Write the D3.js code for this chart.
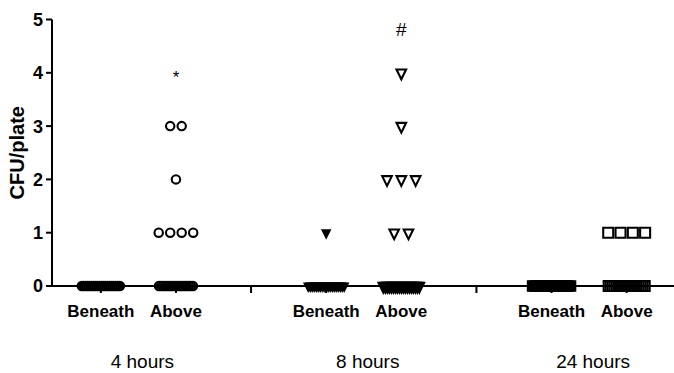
<!DOCTYPE html>
<html>
<head>
<meta charset="utf-8">
<script src="https://cdn.jsdelivr.net/npm/d3@7"></script>
<style>
  html, body { margin: 0; padding: 0; background: #fff; }
  svg { display: block; font-family: "Liberation Sans", Arial, sans-serif; }
</style>
</head>
<body>
<svg id="chart" width="674" height="373"></svg>
<script>
// ---------------- DATA ----------------
const groups = ["4 hours", "8 hours", "24 hours"];
const positions = ["Beneath", "Above"];
const yTicks = [0, 1, 2, 3, 4, 5];
const yTitle = "CFU/plate";

const cfu4hBeneath = [0,0,0,0,0,0,0,0,0,0,0,0,0,0,0,0,0,0,0,0];
const cfu4hAbove   = [3,3,2,1,1,1,1,0,0,0,0,0,0,0,0,0,0,0,0,0,0,0,0,0,0];
const cfu8hBeneath = [1,0,0,0,0,0,0,0,0,0,0,0,0,0,0,0,0,0,0,0];
const cfu8hAbove   = [4,3,2,2,2,1,1,0,0,0,0,0,0,0,0,0,0,0,0,0,0,0,0,0,0,0];
const cfu24hBeneath = [0,0,0,0,0,0,0,0,0,0,0,0,0,0,0,0,0,0,0,0];
const cfu24hAbove   = [1,1,1,1,0,0,0,0,0,0,0,0,0,0,0,0,0,0,0,0,0,0,0];

const seriesValues = [
  [cfu4hBeneath, cfu4hAbove],
  [cfu8hBeneath, cfu8hAbove],
  [cfu24hBeneath, cfu24hAbove]
];
const markerShapes = ["circle", "triangle", "square"];

const annotationLabels = ["*", "#"];
const annotationGroups = ["4 hours", "8 hours"];
const annotationValues = [4, 4.82];

// ---------------- LAYOUT ----------------
const svg = d3.select("#chart");
const x = d3.scaleLinear().domain([-0.65, 7.63]).range([52, 674]);
const y = d3.scaleLinear().domain([0, 5]).range([286, 19.5]);
const slot = (g, p) => g * 3 + p;

// shape specs
const spec = {
  circle:   { step: 11.5 },
  triangle: { step: 14.3 },
  square:   { step: 12.3 }
};
const dense = 2.0;

function markerPath(shape, filled) {
  if (shape === "circle") {
    const r = filled ? 5.3 : 4.2;
    return d3.path().arc ? (() => { const p = d3.path(); p.moveTo(r, 0); p.arc(0, 0, r, 0, 2 * Math.PI); p.closePath(); return p.toString(); })() : "";
  }
  if (shape === "triangle") {
    const w = filled ? 10.5 : 9.6, h = filled ? 10.5 : 9.8;
    const p = d3.path();
    p.moveTo(-w / 2, -h / 3); p.lineTo(w / 2, -h / 3); p.lineTo(0, 2 * h / 3); p.closePath();
    return p.toString();
  }
  const s = filled ? 11.5 : 10;
  const p = d3.path();
  p.rect(-s / 2, -s / 2, s, s);
  return p.toString();
}

// compute point positions
const points = [];
seriesValues.forEach((cols, g) => {
  cols.forEach((vals, p) => {
    const shape = markerShapes[g];
    const counts = d3.rollup(vals, v => v.length, v => v);
    counts.forEach((k, v) => {
      let sp = spec[shape].step;
      if ((k - 1) * sp > 50) sp = dense;
      for (let i = 0; i < k; i++) {
        points.push({
          g, p, v, shape,
          filled: p === 0,
          cx: x(slot(g, p)) + (i - (k - 1) / 2) * sp,
          cy: y(v)
        });
      }
    });
  });
});

// axes
const axisG = svg.append("g");
// y-axis line
axisG.append("line")
  .attr("x1", x(-0.65)).attr("x2", x(-0.65))
  .attr("y1", y(5)).attr("y2", y(0))
  .attr("stroke", "#000").attr("stroke-width", 2);
// x-axis line
axisG.append("line")
  .attr("x1", x(-0.65)).attr("x2", 674)
  .attr("y1", y(0)).attr("y2", y(0))
  .attr("stroke", "#000").attr("stroke-width", 2);

// y ticks
axisG.selectAll(".ytick").data(yTicks).enter().append("line")
  .attr("x1", x(-0.65) - 6).attr("x2", x(-0.65))
  .attr("y1", d => y(d)).attr("y2", d => y(d))
  .attr("stroke", "#000").attr("stroke-width", 2);
axisG.selectAll(".ylab").data(yTicks).enter().append("text")
  .attr("x", x(-0.65) - 9).attr("y", d => y(d))
  .attr("dy", "0.36em")
  .attr("text-anchor", "end")
  .attr("font-size", 18).attr("font-weight", "bold")
  .text(d => d);

// x ticks: column centers and group separators
const xTickSlots = [0, 1, 2, 3, 4, 5, 6, 7];
axisG.selectAll(".xtick").data(xTickSlots).enter().append("line")
  .attr("x1", d => x(d)).attr("x2", d => x(d))
  .attr("y1", y(0)).attr("y2", y(0) + 7)
  .attr("stroke", "#000").attr("stroke-width", 2);

// y title
svg.append("text")
  .attr("transform", `translate(24,${(y(0) + y(5)) / 2}) rotate(-90)`)
  .attr("text-anchor", "middle")
  .attr("font-size", 20).attr("font-weight", "bold")
  .text(yTitle);

// column labels
groups.forEach((gname, g) => {
  positions.forEach((pname, p) => {
    svg.append("text")
      .attr("x", x(slot(g, p))).attr("y", 316.5)
      .attr("text-anchor", "middle")
      .attr("font-size", 17).attr("font-weight", "bold")
      .text(pname);
  });
  svg.append("text")
    .attr("x", x(slot(g, 0.5)) + 4).attr("y", 368)
    .attr("text-anchor", "middle")
    .attr("font-size", 19)
    .text(gname);
});

// points
svg.append("g").selectAll("path").data(points).enter().append("path")
  .attr("d", d => markerPath(d.shape, d.filled))
  .attr("transform", d => `translate(${d.cx},${d.cy})`)
  .attr("fill", d => d.filled ? "#000" : "none")
  .attr("stroke", d => d.filled ? "none" : "#000")
  .attr("stroke-width", 2.1);

// annotations
annotationLabels.forEach((lab, i) => {
  const g = groups.indexOf(annotationGroups[i]);
  svg.append("text")
    .attr("x", x(slot(g, 1)))
    .attr("y", y(annotationValues[i]))
    .attr("dy", lab === "*" ? "0.6em" : "0.36em")
    .attr("text-anchor", "middle")
    .attr("font-size", lab === "*" ? 17 : 19)
    .text(lab);
});
</script>
</body>
</html>
